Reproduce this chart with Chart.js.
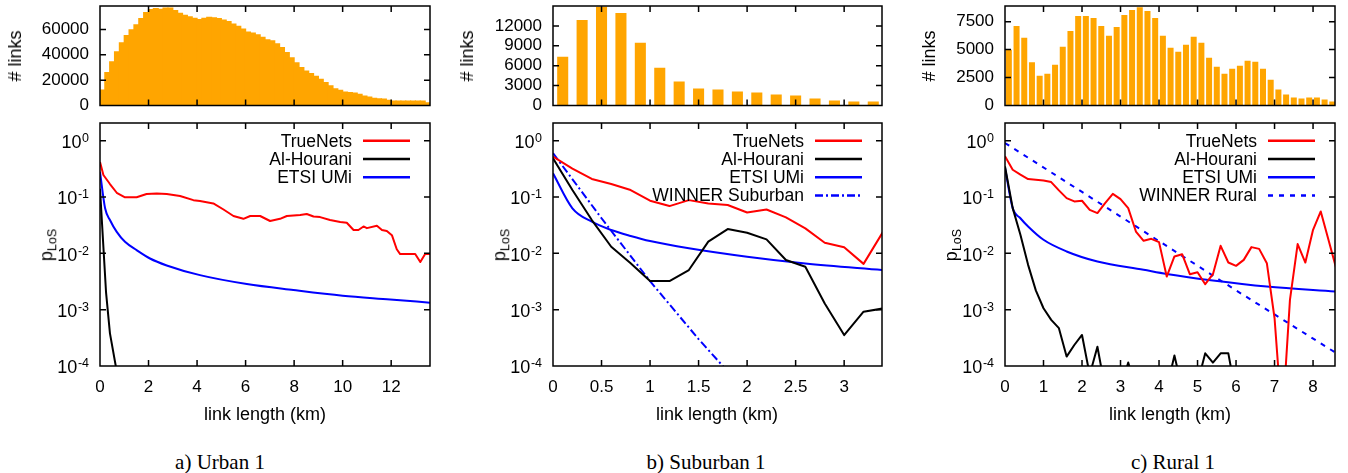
<!DOCTYPE html>
<html>
<head>
<meta charset="utf-8">
<script src="https://cdn.jsdelivr.net/npm/chart.js@4/dist/chart.umd.min.js"></script>
<style>
body { margin: 0; width: 1348px; height: 473px; background: #fff; position: relative; overflow: hidden; font-family: "Liberation Sans", Arial, sans-serif; color: #000; }
canvas { position: absolute; }
.t { position: absolute; white-space: nowrap; font-size: 18px; line-height: 1; transform: translate(-50%, -50%); }
.rot { transform: translate(-50%, -50%) rotate(-90deg); }
.rot sub { font-size: 12.5px; vertical-align: -4px; }
.cap { font-family: "Liberation Serif", "Times New Roman", serif; font-size: 21px; }
</style>
</head>
<body>
<canvas id="h0"></canvas><canvas id="l0"></canvas>
<canvas id="h1"></canvas><canvas id="l1"></canvas>
<canvas id="h2"></canvas><canvas id="l2"></canvas>

<div class="t rot" style="left:15px;top:56px"># links</div>
<div class="t rot" style="left:467px;top:56px"># links</div>
<div class="t rot" style="left:929px;top:56px"># links</div>
<div class="t rot" style="left:48px;top:245px">p<sub>LoS</sub></div>
<div class="t rot" style="left:501px;top:245px">p<sub>LoS</sub></div>
<div class="t rot" style="left:953px;top:245px">p<sub>LoS</sub></div>
<div class="t" style="left:265px;top:414px">link length (km)</div>
<div class="t" style="left:717px;top:414px">link length (km)</div>
<div class="t" style="left:1170px;top:414px">link length (km)</div>
<div class="t cap" style="left:220px;top:462px">a) Urban 1</div>
<div class="t cap" style="left:706px;top:462px">b) Suburban 1</div>
<div class="t cap" style="left:1173px;top:462px">c) Rural 1</div>

<script>
// ---- axis ticks
const urbanXTicks = [0, 2, 4, 6, 8, 10, 12];
const suburbanXTicks = [0, 0.5, 1, 1.5, 2, 2.5, 3];
const ruralXTicks = [0, 1, 2, 3, 4, 5, 6, 7, 8];
const urbanHistTicks = [0, 20000, 40000, 60000];
const suburbanHistTicks = [0, 3000, 6000, 9000, 12000];
const ruralHistTicks = [0, 2500, 5000, 7500];
const logTicks = [1e-4, 1e-3, 1e-2, 1e-1, 1];

// ---- histograms (bin centre in km, # links)
const urbanBins = [0.1, 0.3, 0.5, 0.7, 0.9, 1.1, 1.3, 1.5, 1.7, 1.9, 2.1, 2.3, 2.5, 2.7, 2.9, 3.1, 3.3, 3.5, 3.7, 3.9,
  4.1, 4.3, 4.5, 4.7, 4.9, 5.1, 5.3, 5.5, 5.7, 5.9, 6.1, 6.3, 6.5, 6.7, 6.9, 7.1, 7.3, 7.5, 7.7, 7.9,
  8.1, 8.3, 8.5, 8.7, 8.9, 9.1, 9.3, 9.5, 9.7, 9.9, 10.1, 10.3, 10.5, 10.7, 10.9, 11.1, 11.3, 11.5, 11.7, 11.9,
  12.1, 12.3, 12.5, 12.7, 12.9, 13.1, 13.3, 13.5];
const urbanCounts = [12700, 26400, 34900, 42800, 49900, 55700, 60200, 64200, 69000, 73700,
  76100, 76900, 76300, 77400, 77400, 75300, 73200, 71600, 70500, 69200,
  68200, 69200, 70000, 69700, 69000, 67900, 66600, 64700, 62900, 60800,
  58400, 57600, 56300, 54200, 52300, 51500, 49100, 46200, 42300, 38000,
  34100, 30400, 27700, 25600, 23500, 21100, 18500, 15900, 13700, 12400,
  11100, 10600, 10300, 9200, 7900, 7100, 6100, 5800, 5500, 4500,
  4000, 4000, 4000, 4000, 4000, 4000, 4000, 2600];
const suburbanBins = [0.1, 0.3, 0.5, 0.7, 0.9, 1.1, 1.3, 1.5, 1.7, 1.9, 2.1, 2.3, 2.5, 2.7, 2.9, 3.1, 3.3];
const suburbanCounts = [7350, 12900, 14900, 13950, 9450, 5700, 3600, 2550, 2400, 2100, 1950, 1650, 1500, 1050, 750, 600, 600];
const ruralBins = [0.1, 0.3, 0.5, 0.7, 0.9, 1.1, 1.3, 1.5, 1.7, 1.9, 2.1, 2.3, 2.5, 2.7, 2.9, 3.1, 3.3, 3.5, 3.7, 3.9,
  4.1, 4.3, 4.5, 4.7, 4.9, 5.1, 5.3, 5.5, 5.7, 5.9, 6.1, 6.3, 6.5, 6.7, 6.9, 7.1, 7.3, 7.5, 7.7, 7.9,
  8.1, 8.3, 8.5];
const ruralCounts = [4980, 7120, 6050, 3860, 2670, 2850, 3650, 5250, 6670, 8010,
  8010, 7830, 7120, 6230, 7030, 8100, 8540, 8780, 8450, 7830,
  6230, 5160, 4800, 5430, 6140, 5610, 4270, 3470, 2850, 3290,
  3560, 4000, 3920, 3290, 2310, 1420, 980, 710, 620, 710,
  710, 530, 360];

// ---- p_LoS curves, urban
const urbanTrueKm = [0, 0.14, 0.41, 0.69, 1.03, 1.51, 1.92, 2.34, 2.75, 3.3, 3.85, 4.12, 4.67, 5.09, 5.5,
  5.91, 6.19, 6.6, 7.01, 7.42, 7.7, 8.25, 8.52, 8.8, 9.07, 9.48, 9.9, 10.17, 10.45, 10.65,
  10.86, 11.0, 11.41, 11.62, 11.82, 12.03, 12.23, 12.37, 12.99, 13.2, 13.4, 13.6];
const urbanTrueP = [0.42, 0.246, 0.17, 0.119, 0.099, 0.099, 0.113, 0.116, 0.113, 0.104, 0.088, 0.085, 0.077, 0.060, 0.046,
  0.041, 0.046, 0.046, 0.0375, 0.041, 0.046, 0.048, 0.050, 0.045, 0.044, 0.039, 0.036, 0.035, 0.026, 0.026,
  0.030, 0.028, 0.031, 0.026, 0.025, 0.021, 0.0118, 0.0097, 0.0097, 0.0070, 0.0097, 0.0097];
const urbanHouraniKm = [0, 0.25, 0.41, 0.65, 0.8];
const urbanHouraniP = [0.14, 0.002, 0.00038, 0.0001, 0.00004];
const urbanEtsiKm = [0, 0.21, 0.41, 0.69, 1.03, 1.51, 2.06, 2.75, 4.12, 6.05, 7.97, 10.0, 11.96, 13.6];
const urbanEtsiP = [0.28, 0.063, 0.039, 0.024, 0.016, 0.0114, 0.0081, 0.0061, 0.0041, 0.00285, 0.00223, 0.00177, 0.00152, 0.00133];

// ---- suburban
const suburbanKm = [0, 0.2, 0.4, 0.6, 0.8, 1.0, 1.2, 1.4, 1.6, 1.8, 2.0, 2.2, 2.4, 2.6, 2.8, 3.0, 3.2, 3.4];
const suburbanTrueP = [0.52, 0.32, 0.209, 0.17, 0.133, 0.086, 0.069, 0.088, 0.077, 0.072, 0.053, 0.060, 0.0435, 0.0278, 0.0154, 0.0128, 0.0065, 0.024];
const suburbanHouraniP = [0.486, 0.133, 0.039, 0.0131, 0.00664, 0.00322, 0.00322, 0.00505, 0.0161, 0.027, 0.0232, 0.0177, 0.0076, 0.00578, 0.00129, 0.000354, 0.00092, 0.00105];
const suburbanEtsiKm = [0, 0.2, 0.4, 0.6, 0.8, 1.0, 1.4, 2.0, 2.6, 3.4];
const suburbanEtsiP = [0.263, 0.063, 0.0364, 0.0259, 0.0203, 0.0165, 0.0123, 0.0087, 0.0066, 0.00505];
const suburbanWinnerKm = [0, 0.5, 1.0, 1.5, 1.75, 2.0];
const suburbanWinnerP = [0.6, 0.042, 0.0032, 0.0003, 0.0001, 0.000035];

// ---- rural
const ruralKm = [0, 0.2, 0.4, 0.6, 0.8, 1.0, 1.2, 1.4, 1.6, 1.8, 2.0, 2.2, 2.4, 2.6, 2.8, 3.0, 3.2, 3.4, 3.6, 3.8,
  4.0, 4.2, 4.4, 4.6, 4.8, 5.0, 5.2, 5.4, 5.6, 5.8, 6.0, 6.2, 6.4, 6.6, 6.8, 7.0, 7.2, 7.4, 7.6, 7.8,
  8.0, 8.2, 8.4, 8.6];
const ruralTrueP = [0.53, 0.305, 0.249, 0.208, 0.203, 0.197, 0.184, 0.131, 0.0957, 0.0834,
  0.0858, 0.0593, 0.0518, 0.078, 0.114, 0.0918, 0.0635, 0.0244, 0.0167, 0.0181,
  0.0158, 0.00387, 0.0088, 0.00966, 0.00426, 0.00463, 0.00283, 0.00426, 0.0136, 0.00687,
  0.006, 0.00766, 0.0129, 0.012, 0.00668, 0.00071, 0.00001, 0.00149, 0.0146, 0.00687,
  0.0262, 0.0554, 0.0174, 0.00545];
const ruralHouraniKm = [0, 0.2, 0.4, 0.6, 0.8, 1.0, 1.2, 1.4, 1.6, 1.8, 2.0, 2.2, 2.4, 2.6, 2.8, 3.0,
  3.2, 3.4, 3.6, 3.8, 4.0, 4.2, 4.4, 4.6, 4.8, 5.0, 5.2, 5.4, 5.6, 5.8, 6.0, 6.2];
const ruralHouraniP = [0.35, 0.0635, 0.0213, 0.00625, 0.0022, 0.00106, 0.00066, 0.00047, 0.000147, 0.000236, 0.000356, 0.00007, 0.00022, 0.00004, 0.00003, 0.00004,
  0.000115, 0.00004, 0.00003, 0.00003, 0.00003, 0.00004, 0.000153, 0.00004, 0.00003, 0.00005, 0.000168, 0.000115, 0.000168, 0.000168, 0.00003, 0.00003];
const ruralEtsiKm = [0, 0.2, 0.4, 0.6, 1.0, 1.6, 2.4, 3.6, 4.2, 5.4, 6.8, 8.6];
const ruralEtsiP = [0.33, 0.0635, 0.042, 0.030, 0.0174, 0.0108, 0.00716, 0.0051, 0.0043, 0.00329, 0.00257, 0.0021];
const ruralWinnerKm = [0, 2, 4, 6, 8.6];
const ruralWinnerP = [0.91, 0.123, 0.0165, 0.0022, 0.00017];

const RED = '#ff0000', BLACK = '#000000', BLUE = '#0000ff', ORANGE = '#ffa500';
const FONT = 'Liberation Sans';

const panels = [
  { left: 0, width: 450, plotL: 100, plotR: 430, xMax: 13.6, xTicks: urbanXTicks,
    bins: urbanBins, counts: urbanCounts, histMax: 78500, histTicks: urbanHistTicks, barPct: 1.25,
    series: [
      { label: 'TrueNets', km: urbanTrueKm, p: urbanTrueP, color: RED },
      { label: 'Al-Hourani', km: urbanHouraniKm, p: urbanHouraniP, color: BLACK },
      { label: 'ETSI UMi', km: urbanEtsiKm, p: urbanEtsiP, color: BLUE, smooth: true }
    ] },
  { left: 450, width: 450, plotL: 553, plotR: 882, xMax: 3.39, xTicks: suburbanXTicks,
    bins: suburbanBins, counts: suburbanCounts, histMax: 15000, histTicks: suburbanHistTicks, barPct: 0.57,
    series: [
      { label: 'TrueNets', km: suburbanKm, p: suburbanTrueP, color: RED },
      { label: 'Al-Hourani', km: suburbanKm, p: suburbanHouraniP, color: BLACK },
      { label: 'ETSI UMi', km: suburbanEtsiKm, p: suburbanEtsiP, color: BLUE, smooth: true },
      { label: 'WINNER Suburban', km: suburbanWinnerKm, p: suburbanWinnerP, color: BLUE, dash: [8, 3, 2, 3] }
    ] },
  { left: 900, width: 448, plotL: 1005, plotR: 1335, xMax: 8.57, xTicks: ruralXTicks,
    bins: ruralBins, counts: ruralCounts, histMax: 8900, histTicks: ruralHistTicks, barPct: 0.78,
    series: [
      { label: 'TrueNets', km: ruralKm, p: ruralTrueP, color: RED },
      { label: 'Al-Hourani', km: ruralHouraniKm, p: ruralHouraniP, color: BLACK },
      { label: 'ETSI UMi', km: ruralEtsiKm, p: ruralEtsiP, color: BLUE, smooth: true },
      { label: 'WINNER Rural', km: ruralWinnerKm, p: ruralWinnerP, color: BLUE, dash: [5, 6] }
    ] }
];

// frame, inward (mirrored) tick marks, log tick labels and the key
const framePlugin = {
  id: 'frame',
  afterDraw(chart, args, o) {
    const { ctx, chartArea: a } = chart;
    const x = chart.scales.x, y = chart.scales.y;
    ctx.save();
    ctx.strokeStyle = '#000';
    ctx.lineWidth = 1.5;
    ctx.beginPath();
    o.xTicks.forEach(v => {
      const px = x.getPixelForValue(v);
      if (px < a.left + 1 || px > a.right - 1) return;
      ctx.moveTo(px, a.bottom); ctx.lineTo(px, a.bottom - 6);
      ctx.moveTo(px, a.top); ctx.lineTo(px, a.top + 6);
    });
    o.yTicks.forEach(v => {
      const py = y.getPixelForValue(v);
      if (py < a.top + 1 || py > a.bottom - 1) return;
      ctx.moveTo(a.left, py); ctx.lineTo(a.left + 6, py);
      ctx.moveTo(a.right, py); ctx.lineTo(a.right - 6, py);
    });
    ctx.stroke();
    ctx.strokeRect(a.left, a.top, a.right - a.left, a.bottom - a.top);

    ctx.fillStyle = '#000';
    ctx.textBaseline = 'middle';
    if (o.logLabels) {
      o.yTicks.forEach(v => {
        const py = y.getPixelForValue(v);
        const e = String(Math.round(Math.log10(v)));
        ctx.font = '12.5px "' + FONT + '"';
        const ew = ctx.measureText(e).width;
        const xr = a.left - 11;
        ctx.textAlign = 'left';
        ctx.fillText(e, xr - ew, py - 2);
        ctx.font = '18px "' + FONT + '"';
        ctx.textAlign = 'right';
        ctx.fillText('10', xr - ew - 0.5, py + 2.5);
      });
    }
    if (o.key) {
      ctx.font = '17.5px "' + FONT + '"';
      chart.data.datasets.forEach((ds, i) => {
        const ly = a.top + 17.7 + i * 18.3;
        ctx.textAlign = 'right';
        ctx.fillText(ds.label, a.right - 78, ly + 1);
        ctx.strokeStyle = ds.borderColor;
        ctx.lineWidth = 2.5;
        ctx.setLineDash(ds.borderDash || []);
        ctx.beginPath();
        ctx.moveTo(a.right - 67, ly);
        ctx.lineTo(a.right - 20, ly);
        ctx.stroke();
      });
      ctx.setLineDash([]);
    }
    ctx.restore();
  }
};

function place(id, left, top, w, h) {
  const c = document.getElementById(id);
  c.width = w; c.height = h;
  c.style.left = left + 'px'; c.style.top = top + 'px';
  c.style.width = w + 'px'; c.style.height = h + 'px';
  return c;
}

const setTicks = list => s => { s.ticks = list.map(v => ({ value: v })); };

panels.forEach((p, i) => {
  const yW = p.plotL - p.left;
  const rightPad = p.left + p.width - p.plotR;

  // histogram: canvas y 0..118, plot 6..105.5
  new Chart(place('h' + i, p.left, 0, p.width, 118), {
    type: 'bar',
    data: {
      datasets: [{
        data: p.bins.map((b, k) => ({ x: b, y: p.counts[k] })),
        backgroundColor: ORANGE,
        borderWidth: 0,
        barPercentage: p.barPct,
        categoryPercentage: 1
      }]
    },
    options: {
      responsive: false, animation: false, events: [],
      layout: { padding: { left: 0, right: rightPad, top: 6, bottom: 12.5 } },
      plugins: {
        legend: { display: false }, tooltip: { enabled: false },
        frame: { xTicks: p.xTicks, yTicks: p.histTicks }
      },
      scales: {
        x: { type: 'linear', min: 0, max: p.xMax, offset: false, display: false,
             afterBuildTicks: setTicks(p.xTicks) },
        y: { min: 0, max: p.histMax,
             afterBuildTicks: setTicks(p.histTicks),
             afterFit: s => { s.width = yW; s.paddingTop = 0; s.paddingBottom = 0; },
             grid: { display: false, drawTicks: false }, border: { display: false },
             ticks: { padding: 11, color: '#000', font: { family: FONT, size: 17 }, callback: v => String(v) } }
      }
    },
    plugins: [framePlugin]
  });

  // p_LoS: canvas y 112..402, plot 123..366
  new Chart(place('l' + i, p.left, 112, p.width, 290), {
    type: 'line',
    data: {
      datasets: p.series.map(s => ({
        label: s.label,
        data: s.km.map((k, j) => ({ x: k, y: s.p[j] })),
        borderColor: s.color,
        borderWidth: 2,
        borderDash: s.dash || [],
        borderJoinStyle: 'round',
        pointRadius: 0,
        fill: false,
        tension: 0,
        cubicInterpolationMode: s.smooth ? 'monotone' : 'default'
      }))
    },
    options: {
      responsive: false, animation: false, events: [],
      layout: { padding: { left: 0, right: rightPad, top: 11, bottom: 0 } },
      plugins: {
        legend: { display: false }, tooltip: { enabled: false },
        frame: { xTicks: p.xTicks, yTicks: logTicks, logLabels: true, key: true }
      },
      scales: {
        x: { type: 'linear', min: 0, max: p.xMax,
             afterBuildTicks: setTicks(p.xTicks),
             afterFit: s => { s.height = 36; s.paddingLeft = 0; s.paddingRight = 0; },
             grid: { display: false, drawTicks: false }, border: { display: false },
             ticks: { padding: 11, autoSkip: false, maxRotation: 0, color: '#000',
                      font: { family: FONT, size: 17 }, callback: v => String(v) } },
        y: { type: 'logarithmic', min: 1e-4, max: 2.06,
             afterBuildTicks: setTicks(logTicks),
             afterFit: s => { s.width = yW; s.paddingTop = 0; s.paddingBottom = 0; },
             grid: { display: false, drawTicks: false }, border: { display: false },
             ticks: { display: false } }
      }
    },
    plugins: [framePlugin]
  });
});
</script>
</body>
</html>
